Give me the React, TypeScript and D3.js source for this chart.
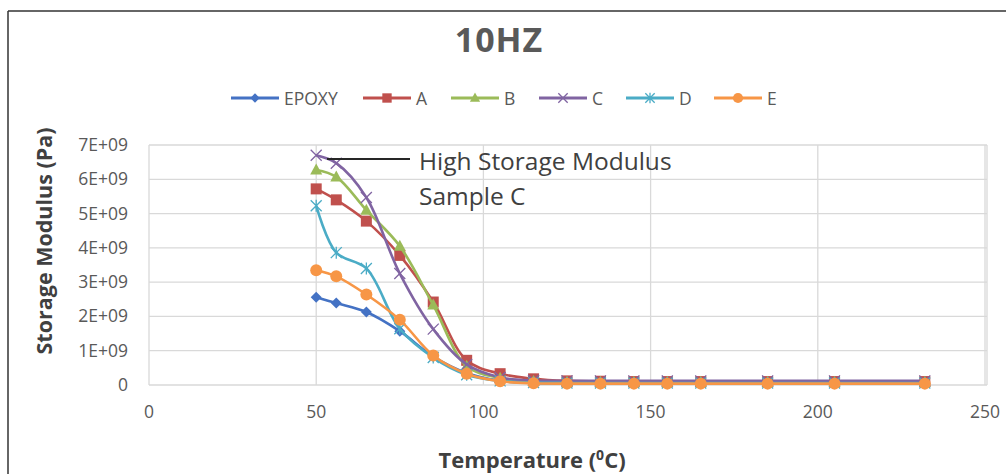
import React from "react";
import * as d3 from "d3";

const temps = [50, 56, 65, 75, 85, 95, 105, 115, 125, 135, 145, 155, 165, 185, 205, 232];
const epoxy = [2.56e9, 2.39e9, 2.13e9, 1.57e9, 0.83e9, 0.35e9, 0.12e9, 0.06e9, 0.05e9, 0.05e9, 0.05e9, 0.05e9, 0.05e9, 0.05e9, 0.05e9, 0.05e9];
const sampleA = [5.72e9, 5.4e9, 4.78e9, 3.78e9, 2.42e9, 0.72e9, 0.33e9, 0.18e9, 0.12e9, 0.11e9, 0.1e9, 0.1e9, 0.1e9, 0.1e9, 0.1e9, 0.1e9];
const sampleB = [6.27e9, 6.07e9, 5.1e9, 4.05e9, 2.33e9, 0.55e9, 0.2e9, 0.1e9, 0.08e9, 0.08e9, 0.08e9, 0.08e9, 0.08e9, 0.08e9, 0.08e9, 0.08e9];
const sampleC = [6.7e9, 6.47e9, 5.47e9, 3.25e9, 1.63e9, 0.6e9, 0.22e9, 0.13e9, 0.12e9, 0.12e9, 0.12e9, 0.12e9, 0.12e9, 0.12e9, 0.12e9, 0.12e9];
const sampleD = [5.23e9, 3.86e9, 3.4e9, 1.64e9, 0.8e9, 0.3e9, 0.12e9, 0.07e9, 0.06e9, 0.06e9, 0.06e9, 0.06e9, 0.06e9, 0.06e9, 0.06e9, 0.06e9];
const sampleE = [3.35e9, 3.17e9, 2.64e9, 1.9e9, 0.86e9, 0.33e9, 0.11e9, 0.05e9, 0.04e9, 0.04e9, 0.04e9, 0.04e9, 0.04e9, 0.04e9, 0.04e9, 0.04e9];

const seriesNames = ["EPOXY", "A", "B", "C", "D", "E"];
const seriesValues = [epoxy, sampleA, sampleB, sampleC, sampleD, sampleE];
const seriesColors = ["#4472C4", "#C0504D", "#9BBB59", "#8064A2", "#4BACC6", "#F79646"];
const seriesMarkers = ["diamond", "square", "triangle", "x", "asterisk", "circle"];

const xTicks = [0, 50, 100, 150, 200, 250];
const yTicks = [0, 1e9, 2e9, 3e9, 4e9, 5e9, 6e9, 7e9];
const yTickLabels = ["0", "1E+09", "2E+09", "3E+09", "4E+09", "5E+09", "6E+09", "7E+09"];
const legendX = [231, 363, 451, 539, 626, 714];

const FONT = "'Open Sans', Lato, 'DejaVu Sans', sans-serif";

function Marker({ type, x, y, color, s = 1 }: { type: string; x: number; y: number; color: string; s?: number }) {
  const r = 5.5 * s;
  switch (type) {
    case "diamond":
      return <path d={`M${x},${y - r}L${x + r},${y}L${x},${y + r}L${x - r},${y}Z`} fill={color} />;
    case "square":
      return <rect x={x - r} y={y - r} width={2 * r} height={2 * r} fill={color} />;
    case "triangle":
      return <path d={`M${x},${y - 6.5 * s}L${x + 6 * s},${y + 4.5 * s}L${x - 6 * s},${y + 4.5 * s}Z`} fill={color} />;
    case "x":
      return (
        <path d={`M${x - r},${y - r}L${x + r},${y + r}M${x + r},${y - r}L${x - r},${y + r}`} stroke={color} strokeWidth={1.3} fill="none" />
      );
    case "asterisk":
      return (
        <path
          d={`M${x - r},${y - r}L${x + r},${y + r}M${x + r},${y - r}L${x - r},${y + r}M${x},${y - r - 0.5}L${x},${y + r + 0.5}`}
          stroke={color}
          strokeWidth={1.3}
          fill="none"
        />
      );
    default:
      return <circle cx={x} cy={y} r={6 * s} fill={color} />;
  }
}

export default function App() {
  const W = 1006;
  const H = 474;
  const left = 149;
  const right = 987;
  const top = 145;
  const bottom = 385;
  const x = d3.scaleLinear().domain([0, 250]).range([left, 985]);
  const y = d3.scaleLinear().domain([0, 7e9]).range([bottom, top]);
  const line = d3
    .line<number>()
    .x((_, i) => x(temps[i]))
    .y((d) => y(d))
    .curve(d3.curveCatmullRom.alpha(0.5));

  return (
    <svg width={W} height={H} style={{ position: "absolute", left: 0, top: 0, background: "#fff" }} fontFamily={FONT}>
      <rect x={0} y={0} width={W} height={H} fill="#fff" />
      {/* frame */}
      <line x1={8} y1={11} x2={W} y2={11} stroke="#333" strokeWidth={1.5} />
      <line x1={8} y1={11} x2={8} y2={H} stroke="#333" strokeWidth={1.5} />

      {/* title */}
      <text x={499} y={52} textAnchor="middle" fontSize={34} fontWeight="bold" fill="#595959" letterSpacing={1}>
        10HZ
      </text>

      {/* legend */}
      {seriesNames.map((n, i) => (
        <g key={n}>
          <line x1={legendX[i]} x2={legendX[i] + 48} y1={98} y2={98} stroke={seriesColors[i]} strokeWidth={3} />
          <Marker type={seriesMarkers[i]} x={legendX[i] + 24} y={98} color={seriesColors[i]} s={0.85} />
          <text x={legendX[i] + 53} y={104.5} fontSize={17.5} fill="#595959">
            {n}
          </text>
        </g>
      ))}

      {/* grid */}
      {yTicks.map((t) => (
        <line key={"gy" + t} x1={left} x2={right} y1={y(t)} y2={y(t)} stroke="#d9d9d9" strokeWidth={1.3} />
      ))}
      {xTicks.map((t) => (
        <line key={"gx" + t} x1={x(t)} x2={x(t)} y1={top} y2={bottom} stroke="#d9d9d9" strokeWidth={1.3} />
      ))}
      <line x1={right} x2={right} y1={top} y2={bottom} stroke="#d9d9d9" strokeWidth={1.3} />

      {/* tick labels */}
      {yTicks.map((t, i) => (
        <text key={"ty" + t} x={128} y={y(t) + 6} textAnchor="end" fontSize={17.5} fill="#595959">
          {yTickLabels[i]}
        </text>
      ))}
      {xTicks.map((t) => (
        <text key={"tx" + t} x={x(t)} y={418} textAnchor="middle" fontSize={17.5} fill="#595959">
          {t}
        </text>
      ))}

      {/* axis titles */}
      <text transform="translate(52,241) rotate(-90)" textAnchor="middle" fontSize={21.5} fontWeight="bold" fill="#404040">
        Storage Modulus (Pa)
      </text>
      <text x={532} y={468} textAnchor="middle" fontSize={22} fontWeight="bold" fill="#404040">
        Temperature (
        <tspan dy={-8} fontSize={14}>
          0
        </tspan>
        <tspan dy={8}>C)</tspan>
      </text>

      {/* series */}
      {seriesValues.map((vals, si) => (
        <g key={seriesNames[si]}>
          <path d={line(vals) || ""} fill="none" stroke={seriesColors[si]} strokeWidth={2.6} />
          {vals.map((v, i) => (
            <Marker key={i} type={seriesMarkers[si]} x={x(temps[i])} y={y(v)} color={seriesColors[si]} />
          ))}
        </g>
      ))}

      {/* annotation */}
      <line x1={327} x2={410} y1={159} y2={159} stroke="#262626" strokeWidth={2} />
      <text x={419} y={170} fontSize={24.5} fill="#404040">
        High Storage Modulus
      </text>
      <text x={419} y={205} fontSize={24.5} fill="#404040">
        Sample C
      </text>
    </svg>
  );
}
